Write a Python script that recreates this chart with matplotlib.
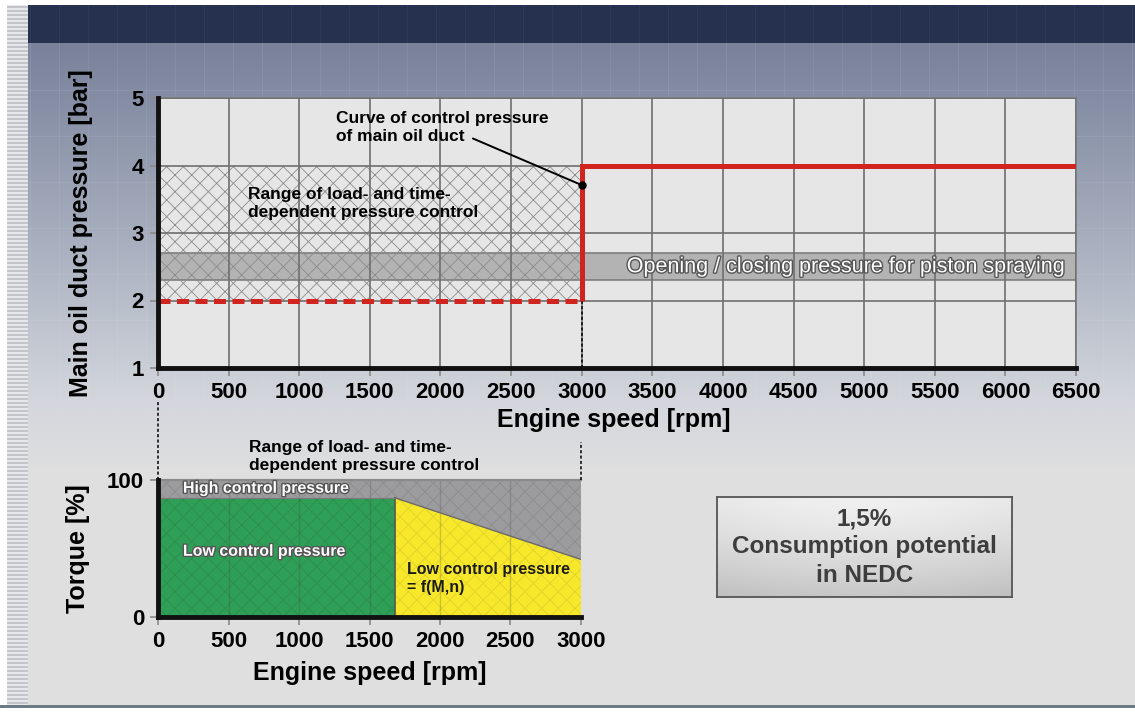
import numpy as np
import matplotlib
matplotlib.use("Agg")
import matplotlib.pyplot as plt
from matplotlib import patheffects as pe
from matplotlib.colors import to_rgb

# ---------------- data ----------------
speed_ticks_top = [0, 500, 1000, 1500, 2000, 2500, 3000, 3500, 4000, 4500, 5000, 5500, 6000, 6500]
pressure_ticks = [1, 2, 3, 4, 5]

# control pressure of the main oil duct [bar] over engine speed [rpm]
control_speed = [0, 3000, 3000, 6500]
control_pressure = [2, 2, 4, 4]

# load- and time-dependent control range
range_speed = [0, 3000]
range_pressure = [2, 4]

# opening / closing pressure band of the piston spray nozzles
spray_pressure = [2.3, 2.7]

# point on the curve the leader line refers to
curve_note_speed = 3000
curve_note_pressure = 3.71

speed_ticks_bottom = [0, 500, 1000, 1500, 2000, 2500, 3000]
torque_ticks = [0, 100]

# torque map [%] over engine speed [rpm]
high_speed = [0, 3000]
high_torque = [100, 100]
low_const_speed = [0, 1680]
low_const_torque = [87, 87]
low_var_speed = [1680, 3000]
low_var_torque = [87, 42]

# ---------------- style ----------------
plt.rcParams['font.family'] = ['Liberation Sans', 'DejaVu Sans']
plt.rcParams['hatch.linewidth'] = 0.6

W, H, DPI = 1135, 713, 100
fig = plt.figure(figsize=(W / DPI, H / DPI), dpi=DPI)

# ---------------- slide background ----------------
def hexrgb(c):
    return np.array(to_rgb(c))

img = np.ones((H, W, 3))
rows = np.arange(H)
stops_y = [43, 100, 250, 400, 470, 705]
stops_c = [hexrgb('#79829a'), hexrgb('#858ea4'), hexrgb('#aab1c0'),
           hexrgb('#d3d6dc'), hexrgb('#dfdfe0'), hexrgb('#e0e0e0')]
for ch in range(3):
    col = np.interp(rows, stops_y, [c[ch] for c in stops_c])
    img[:, :, ch] = col[:, None]
# faint tile lines in the upper part
fade = np.clip(1 - (rows - 43) / 420.0, 0, 1)
for x in range(30, W, 29):
    img[43:, x, :] = np.clip(img[43:, x, :] + 0.035 * fade[43:, None], 0, 1)
for y in range(90, 430, 46):
    img[y, :, :] = np.clip(img[y, :, :] + 0.035 * fade[y], 0, 1)
# dark header band
img[5:43, :, :] = hexrgb('#25314f')
for x in range(30, W, 29):
    img[5:43, x, :] = hexrgb('#2c3958')
# white margin at the top
img[0:5, :, :] = 1.0
# striped edge on the left
img[:, 0:7, :] = 1.0
for y in range(5, 706):
    shade = '#e6e7ea' if (y // 2) % 2 == 0 else '#c3c5cb'
    img[y, 7:28, :] = hexrgb(shade)
# bottom rule
img[705:708, :, :] = hexrgb('#6d7b86')
img[708:, :, :] = 1.0

bg = fig.add_axes([0, 0, 1, 1], zorder=-10)
bg.imshow(img, extent=[0, 1, 0, 1], aspect='auto', interpolation='bilinear')
bg.axis('off')

def fig_rect(x0, y0, x1, y1):
    return [x0 / W, 1 - y1 / H, (x1 - x0) / W, (y1 - y0) / H]

shadow = [pe.Stroke(linewidth=2.0, foreground='#555555'), pe.Normal()]

# ---------------- upper chart: oil duct pressure ----------------
ax1 = fig.add_axes(fig_rect(158, 98, 1076, 368))
ax1.set_facecolor('#e6e6e6')
ax1.set_xlim(0, 6500)
ax1.set_ylim(1, 5)
ax1.set_xticks(speed_ticks_top)
ax1.set_yticks(pressure_ticks)
ax1.grid(True, color='#6f6f6f', lw=1.2)
ax1.set_axisbelow(False)

ax1.axhspan(spray_pressure[0], spray_pressure[1], color='#b3b3b3', lw=0, zorder=1)
for p in spray_pressure:
    ax1.axhline(p, color='#777777', lw=1.1, zorder=1.1)
ax1.fill_between(range_speed, range_pressure[0], range_pressure[1],
                 facecolor='none', edgecolor='#8c8c8c', hatch='xx', lw=0, zorder=1.2)

ax1.plot(control_speed[:2], control_pressure[:2], color='#d2241f', lw=3.6,
         ls=(0, (2.4, 1.3)), dash_capstyle='butt', zorder=4)
ax1.plot(control_speed[1:], control_pressure[1:], color='#d2241f', lw=3.6,
         solid_joinstyle='miter', solid_capstyle='butt', zorder=4)

# guide line from the switch-over speed down into the torque map
ax1.plot([range_speed[1], range_speed[1]], [1, range_pressure[0]], color='black',
         lw=1.1, ls=(0, (2, 1.5)), zorder=3.5)

ax1.text(1260, 4.57, 'Curve of control pressure\nof main oil duct', fontsize=12.5,
         fontweight='bold', va='center', ha='left', linespacing=1.25, zorder=5)
ax1.annotate('', xy=(curve_note_speed, curve_note_pressure), xytext=(2230, 4.40),
             arrowprops=dict(arrowstyle='-', color='black', lw=1.4, shrinkA=0, shrinkB=0),
             zorder=5)
ax1.plot([curve_note_speed], [curve_note_pressure], 'o', color='black', ms=5, zorder=6)

ax1.text(637, 3.43, 'Range of load- and time-\ndependent pressure control', fontsize=12.5,
         fontweight='bold', va='center', ha='left', linespacing=1.25, zorder=5)
ax1.text(6415, 2.5, 'Opening / closing pressure for piston spraying', fontsize=15.5,
         color='white', va='center', ha='right', zorder=5, path_effects=shadow)

for s in ('top', 'right'):
    ax1.spines[s].set_color('#7a7a7a')
    ax1.spines[s].set_linewidth(1.2)
for s in ('left', 'bottom'):
    ax1.spines[s].set_color('#111111')
    ax1.spines[s].set_linewidth(3.5)
    ax1.spines[s].set_zorder(6)
ax1.tick_params(length=6, width=1.2, color='#8a8a8a', pad=4, labelsize=16)
for lab in ax1.get_xticklabels() + ax1.get_yticklabels():
    lab.set_fontweight('bold')
ax1.set_xlabel('Engine speed [rpm]', fontsize=18, fontweight='bold')
ax1.set_ylabel('Main oil duct pressure [bar]', fontsize=18, fontweight='bold')
ax1.xaxis.set_label_coords(0.497, -0.148)
ax1.yaxis.set_label_coords(-0.071, 0.5)

# ---------------- lower chart: torque map ----------------
ax2 = fig.add_axes(fig_rect(158, 480, 581, 617))
ax2.set_facecolor('none')
ax2.set_xlim(0, 3000)
ax2.set_ylim(0, 100)
ax2.set_xticks(speed_ticks_bottom)
ax2.set_yticks(torque_ticks)

ax2.fill_between(high_speed, 0, high_torque, facecolor='#9c9c9e', edgecolor='#8c8c8e',
                 hatch='xx', lw=0, zorder=1)
ax2.fill_between(low_const_speed, 0, low_const_torque, facecolor='#2f9e57',
                 edgecolor='#2b8e4e', hatch='xx', lw=0, zorder=1.2)
ax2.fill_between(low_var_speed, 0, low_var_torque, facecolor='#f7e82b',
                 edgecolor='#e0d329', hatch='xx', lw=0, zorder=1.2)
ax2.plot(low_var_speed, low_var_torque, color='#6a6a6a', lw=1, zorder=1.5)
ax2.plot([low_var_speed[0]] * 2, [0, low_var_torque[0]], color='#555555', lw=1.2, zorder=1.5)
ax2.plot(low_const_speed, low_const_torque, color='#7a7a7a', lw=0.8, zorder=1.5)
ax2.plot(high_speed, high_torque, color='#8a8a8a', lw=1.6, zorder=1.6, clip_on=False)
for x in speed_ticks_bottom[1:-1]:
    ax2.axvline(x, color='#404040', lw=1, alpha=0.22, zorder=1.4)

# guide lines coming from the upper chart
ax2.plot([0, 0], [100, 157], color='black', lw=1.1, ls=(0, (2, 1.5)), clip_on=False, zorder=3)
ax2.plot([3000, 3000], [100, 128], color='black', lw=1.1, ls=(0, (2, 1.5)), clip_on=False, zorder=3)

ax2.text(643, 117.5, 'Range of load- and time-\ndependent pressure control', fontsize=12.5,
         fontweight='bold', va='center', ha='left', linespacing=1.25, clip_on=False)
ax2.text(177, 94, 'High control pressure', fontsize=11.5, fontweight='bold', color='white',
         va='center', ha='left', zorder=5, path_effects=shadow)
ax2.text(177, 48, 'Low control pressure', fontsize=11.5, fontweight='bold', color='white',
         va='center', ha='left', zorder=5, path_effects=shadow)
ax2.text(1766, 28, 'Low control pressure\n= f(M,n)', fontsize=11.5, fontweight='bold',
         color='#1a1a1a', va='center', ha='left', linespacing=1.2, zorder=5)

for s in ('top', 'right'):
    ax2.spines[s].set_visible(False)
for s in ('left', 'bottom'):
    ax2.spines[s].set_color('#111111')
    ax2.spines[s].set_linewidth(3.5)
    ax2.spines[s].set_zorder(6)
ax2.tick_params(length=6, width=1.2, color='#8a8a8a', pad=4, labelsize=16)
for lab in ax2.get_xticklabels() + ax2.get_yticklabels():
    lab.set_fontweight('bold')
ax2.set_xlabel('Engine speed [rpm]', fontsize=18, fontweight='bold')
ax2.set_ylabel('Torque [%]', fontsize=18, fontweight='bold')
ax2.xaxis.set_label_coords(0.5, -0.32)
ax2.yaxis.set_label_coords(-0.16, 0.5)

# ---------------- result box ----------------
bx = fig.add_axes(fig_rect(717, 497, 1012, 597))
yy = np.linspace(0, 1, 100)
xx = np.linspace(0, 1, 300)
shade = 0.93 - 0.16 * yy[:, None] ** 1.4 + 0.03 * np.sin(np.pi * xx[None, :]) - 0.02
box_img = np.dstack([shade, shade, shade])
bx.imshow(np.clip(box_img, 0, 1), extent=[0, 1, 0, 1], aspect='auto')
bx.set_xticks([])
bx.set_yticks([])
for s in bx.spines.values():
    s.set_color('#555555')
    s.set_linewidth(1.3)
bx.text(0.5, 0.5, '1,5%\nConsumption potential\nin NEDC', fontsize=17.5, fontweight='bold',
        color='#3d3d3d', ha='center', va='center', linespacing=1.3, transform=bx.transAxes)

fig.savefig('out.png', dpi=DPI)
